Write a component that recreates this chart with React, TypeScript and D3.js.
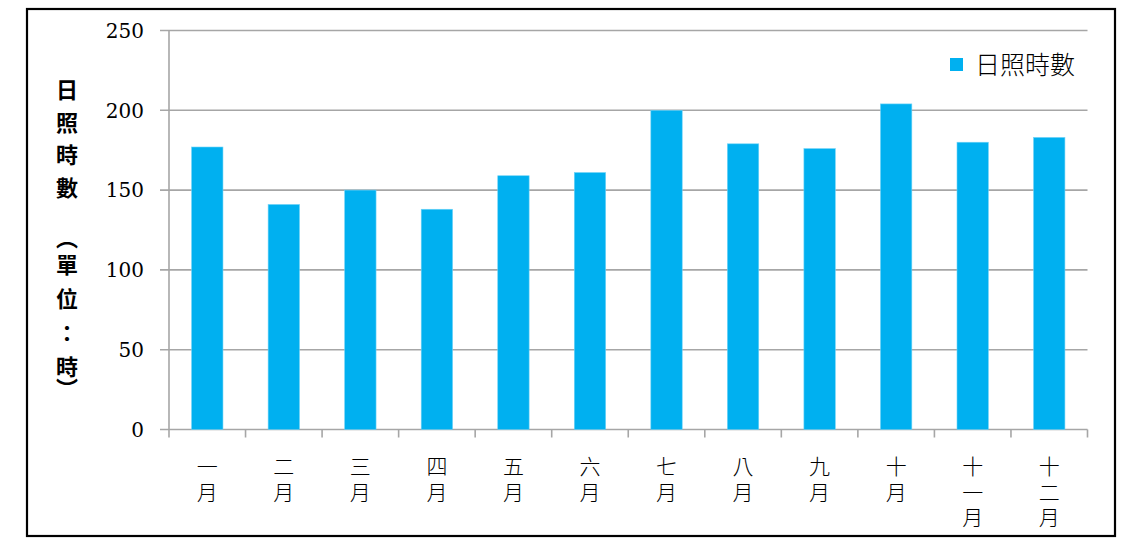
import React from "react";
import * as d3 from "d3";

const months = ["一月", "二月", "三月", "四月", "五月", "六月", "七月", "八月", "九月", "十月", "十一月", "十二月"];
const sunshineHours = [177, 141, 150, 138, 159, 161, 200, 179, 176, 204, 180, 183];
const yTicks = [0, 50, 100, 150, 200, 250];
const seriesName = "日照時數";
const yTitleTop = ["日", "照", "時", "數"];
const yTitleBottom = ["單", "位", "：", "時"];

const W = 1123;
const H = 538;
const plot = { left: 169, right: 1087.5, top: 30.5, bottom: 429.5 };
const grid = "#A6A6A6";
const barColor = "#00B0F0";

export default function App() {
  const x = d3.scaleBand<string>().domain(months).range([plot.left, plot.right]).paddingInner(0.59).paddingOuter(0.295);
  const xb = d3.scaleBand<string>().domain(months).range([plot.left, plot.right]);
  const y = d3.scaleLinear().domain([0, 250]).range([plot.bottom, plot.top]);
  const step = xb.step();

  return (
    <svg width={W} height={H} style={{ position: "absolute", left: 0, top: 0, background: "#fff" }}>
      <rect x={27} y={9} width={1088} height={527} fill="#fff" stroke="#000" strokeWidth={2.2} />
      {yTicks.map((t) => (
        <g key={t}>
          <line x1={plot.left - 9} x2={plot.right} y1={y(t)} y2={y(t)} stroke={grid} strokeWidth={1.6} />
          <text x={144} y={y(t)} dy="0.36em" textAnchor="end" fontFamily="'DejaVu Serif', serif" fontSize={20} fill="#000">
            {t}
          </text>
        </g>
      ))}
      <line x1={plot.left} x2={plot.left} y1={plot.top} y2={plot.bottom + 8} stroke={grid} strokeWidth={1.6} />
      {months.map((m) => (
        <line key={"t" + m} x1={xb(m)! + step} x2={xb(m)! + step} y1={plot.bottom} y2={plot.bottom + 8} stroke={grid} strokeWidth={1.6} />
      ))}
      {months.map((m, i) => (
        <rect key={m} x={x(m)} y={y(sunshineHours[i])} width={x.bandwidth()} height={plot.bottom - y(sunshineHours[i])} fill={barColor} stroke="#6FD3F7" strokeWidth={0.6} />
      ))}
      {months.map((m) => {
        const cx = xb(m)! + step / 2;
        return (
          <text key={"l" + m} textAnchor="middle" fontFamily="'Noto Sans CJK TC', sans-serif" fontSize={21} fontWeight={300} fill="#000">
            {Array.from(m).map((c, j) => (
              <tspan key={j} x={cx} y={474 + j * 25.5}>
                {c}
              </tspan>
            ))}
          </text>
        );
      })}
      <g fontFamily="'Noto Sans CJK TC', sans-serif" fontSize={22} fontWeight={700} fill="#000" textAnchor="middle">
        {yTitleTop.map((c, j) => (
          <text key={"a" + j} x={67} y={98 + j * 32.5}>
            {c}
          </text>
        ))}
        {yTitleBottom.map((c, j) => (
          <text key={"b" + j} x={67} y={273 + j * 34}>
            {c}
          </text>
        ))}
        <text x={67} y={246}>{"\uFE35"}</text>
        <text x={67} y={397}>{"\uFE36"}</text>
      </g>
      <rect x={950} y={58} width={13} height={13} fill={barColor} />
      <text x={975} y={74} fontFamily="'Noto Sans CJK TC', sans-serif" fontSize={25} fontWeight={300} fill="#000">
        {seriesName}
      </text>
    </svg>
  );
}
